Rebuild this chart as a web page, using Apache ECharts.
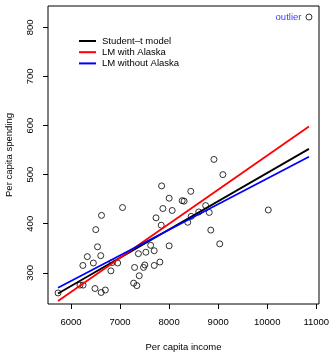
<!DOCTYPE html>
<html>
<head>
<meta charset="utf-8">
<script src="https://cdn.jsdelivr.net/npm/echarts@6/dist/echarts.min.js"></script>
<style>html,body{margin:0;padding:0;background:#fff}#c{width:331px;height:354px}</style>
</head>
<body>
<div id="c"></div>
<script>
// US states, 1979: per capita income and per capita public school spending
const states = ["AL","AK","AZ","AR","CA","CO","CT","DE","FL","GA","HI","ID","IL","IN","IA","KS","KY","LA","ME","MD","MA","MI","MN","MS","MO","MT","NE","NV","NH","NJ","NM","NY","NC","ND","OH","OK","OR","PA","RI","SC","SD","TN","TX","UT","VT","VA","WA","DC","WV","WY"];
const income = [6247,10851,7374,6183,8850,8001,8914,8604,7505,6700,8380,6813,8745,7696,7873,8001,6615,7296,6333,8306,8063,8442,7847,5736,7342,7051,7391,9032,7277,8818,6505,8267,6607,7478,7812,6951,7839,7733,7526,6242,6841,6489,7697,6622,6541,7624,8450,10022,6456,9096];
const spending = [275,821,339,275,387,452,531,424,316,265,403,304,437,345,431,355,260,311,333,446,427,466,477,259,274,433,294,359,279,423,388,447,335,311,322,320,397,412,342,315,321,268,315,417,353,356,415,428,320,500];
const outlierState = "AK";
const xTicks = [6000,7000,8000,9000,10000,11000];
const yTicks = [300,400,500,600,700,800];
const studentT = {intercept: -72.5, slope: 0.0576};
const lineNames = ["Student\u2013t model","LM with Alaska","LM without Alaska"];
const lineColors = ["#000000","#ff0000","#0000ff"];

function ols(xs, ys){
  const n = xs.length;
  const mx = xs.reduce((a,b)=>a+b,0)/n, my = ys.reduce((a,b)=>a+b,0)/n;
  let sxy=0, sxx=0;
  for(let i=0;i<n;i++){ sxy += (xs[i]-mx)*(ys[i]-my); sxx += (xs[i]-mx)*(xs[i]-mx); }
  const slope = sxy/sxx;
  return {intercept: my - slope*mx, slope};
}
const fitAll = ols(income, spending);
const keep = states.map((s,i)=>s!==outlierState?i:-1).filter(i=>i>=0);
const fitNoAK = ols(keep.map(i=>income[i]), keep.map(i=>spending[i]));
const fits = [studentT, fitAll, fitNoAK];

const xmin = Math.min(...income), xmax = Math.max(...income);
const ymin = Math.min(...spending), ymax = Math.max(...spending);
const xpad = (xmax-xmin)*0.04, ypad = (ymax-ymin)*0.04;

const FONT = '"Liberation Sans", Arial, sans-serif';
const FS = 9.5;

const pts = income.map((x,i)=>{
  const d = {value:[x, spending[i]]};
  if(states[i]===outlierState){
    d.label = {show:true, position:'left', distance:4, formatter:'outlier', color:'#0000ff', fontFamily:FONT, fontSize:FS};
  }
  return d;
});

const lineSeries = fits.map((f,k)=>({
  name: lineNames[k], type:'line', symbol:'none', z:3,
  lineStyle:{color:lineColors[k], width:1.8}, itemStyle:{color:lineColors[k]},
  data:[[xmin, f.intercept+f.slope*xmin],[xmax, f.intercept+f.slope*xmax]]
}));

const chart = echarts.init(document.getElementById('c'), null, {renderer:'canvas'});
chart.setOption({
  animation:false,
  backgroundColor:'#fff',
  grid:{left:48, right:12, top:6, bottom:50, show:true, borderColor:'#000', borderWidth:1, backgroundColor:'transparent', containLabel:false, outerBoundsMode:'none'},
  legend:{
    data: lineNames, left:78, top:35.5, padding:0, orient:'vertical', itemWidth:17, itemHeight:2, itemGap:0.2,
    itemStyle:{opacity:0},
    textStyle:{fontFamily:FONT, fontSize:FS, color:'#000', lineHeight:11, padding:[0,0,0,1]}
  },
  xAxis:{
    type:'value', min:xmin-xpad, max:xmax+xpad,
    name:'Per capita income', nameLocation:'middle', nameGap:38,
    nameTextStyle:{fontFamily:FONT, fontSize:FS, color:'#000'},
    axisLine:{show:false}, splitLine:{show:false},
    axisTick:{show:true, length:5, customValues:xTicks, lineStyle:{color:'#000'}},
    axisLabel:{customValues:xTicks, margin:13, fontFamily:FONT, fontSize:FS, color:'#000', formatter:v=>String(v)}
  },
  yAxis:{
    type:'value', min:ymin-ypad, max:ymax+ypad,
    name:'Per capita spending', nameLocation:'middle', nameGap:34,
    nameTextStyle:{fontFamily:FONT, fontSize:FS, color:'#000'},
    axisLine:{show:false}, splitLine:{show:false},
    axisTick:{show:true, length:5, customValues:yTicks, lineStyle:{color:'#000'}},
    axisLabel:{customValues:yTicks, rotate:90, margin:13, fontFamily:FONT, fontSize:FS, color:'#000', formatter:v=>String(v)}
  },
  series:[
    {type:'scatter', symbol:'circle', symbolSize:6, z:2,
     itemStyle:{color:'rgba(0,0,0,0)', borderColor:'#000', borderWidth:1},
     data: pts}
  ].concat(lineSeries)
});
</script>
</body>
</html>
